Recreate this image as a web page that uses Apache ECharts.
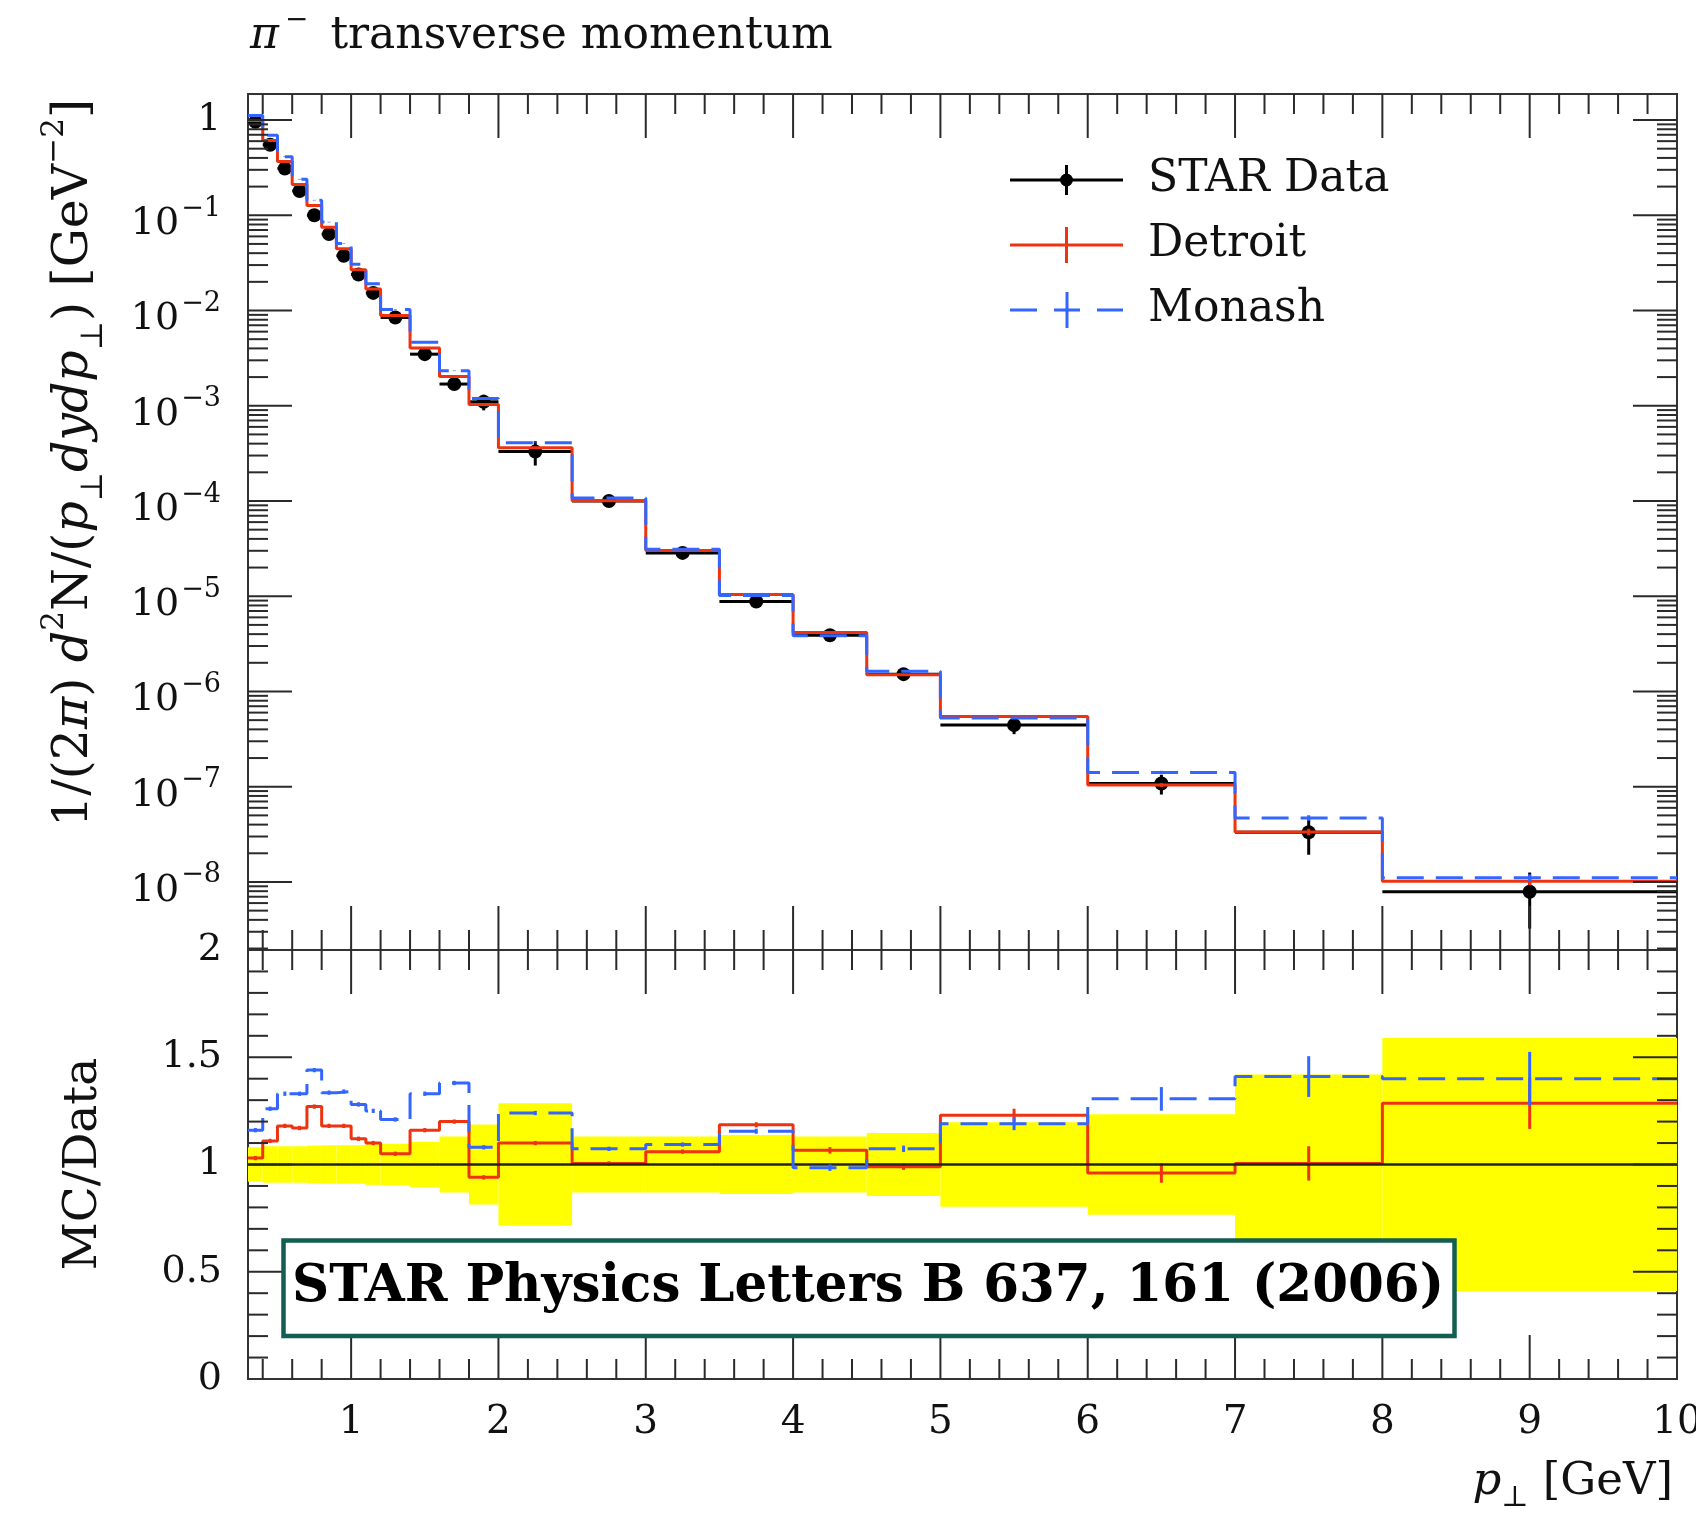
<!DOCTYPE html>
<html>
<head>
<meta charset="utf-8">
<title>pi- transverse momentum</title>
<script src="https://cdn.jsdelivr.net/npm/echarts@6/dist/echarts.min.js"></script>
<style>
  html, body { margin: 0; padding: 0; background: #ffffff; }
  #chart { width: 1696px; height: 1513px; }
</style>
</head>
<body>
<div id="chart"></div>
<script>
// ---- values ----
// pT bin edges [GeV]
const binEdges = [0.3, 0.4, 0.5, 0.6, 0.7, 0.8, 0.9, 1.0, 1.1, 1.2, 1.4, 1.6, 1.8, 2.0, 2.5, 3.0, 3.5, 4.0, 4.5, 5.0, 6.0, 7.0, 8.0, 10.0];
// STAR measurement, 1/(2pi) d2N/(pT dy dpT) [GeV^-2]
const starData = [0.96, 0.55, 0.31, 0.18, 0.10, 0.0635, 0.0376, 0.0239, 0.0153, 0.00845, 0.00348, 0.00169, 0.0011,
  3.3e-4, 1.0e-4, 2.85e-5, 8.8e-6, 3.9e-6, 1.52e-6, 4.44e-7, 1.08e-7, 3.33e-8, 7.9e-9];
// relative uncertainty of the measurement
const starRelErr = [0.08, 0.085, 0.085, 0.085, 0.088, 0.09, 0.09, 0.09, 0.095, 0.097, 0.105, 0.13, 0.187,
  0.286, 0.131, 0.131, 0.137, 0.13, 0.147, 0.197, 0.234, 0.42, 0.59];
// Pythia tunes
const detroit = [0.989, 0.611, 0.366, 0.211, 0.127, 0.0749, 0.0444, 0.0268, 0.0168, 0.00887, 0.00404, 0.00203, 0.00103,
  3.63e-4, 1.005e-4, 3.02e-5, 1.04e-5, 4.16e-6, 1.50e-6, 5.46e-7, 1.04e-7, 3.35e-8, 1.02e-8];
const monash = [1.114, 0.693, 0.412, 0.239, 0.144, 0.0848, 0.0504, 0.0306, 0.0191, 0.01022, 0.00463, 0.00233, 0.00119,
  4.09e-4, 1.073e-4, 3.12e-5, 1.016e-5, 3.84e-6, 1.63e-6, 5.28e-7, 1.41e-7, 4.70e-8, 1.106e-8];
// MC / Data
const detroitRatio = [1.03, 1.11, 1.18, 1.17, 1.27, 1.18, 1.18, 1.12, 1.10, 1.05, 1.16, 1.20, 0.94,
  1.10, 1.005, 1.06, 1.185, 1.066, 0.99, 1.23, 0.96, 1.005, 1.286];
const monashRatio = [1.16, 1.26, 1.33, 1.33, 1.44, 1.335, 1.34, 1.28, 1.25, 1.21, 1.33, 1.38, 1.08,
  1.24, 1.073, 1.093, 1.155, 0.985, 1.073, 1.19, 1.306, 1.41, 1.40];
// MC statistical uncertainty (ratio units)
const detroitRatioErr = [0.01, 0.01, 0.01, 0.01, 0.01, 0.01, 0.01, 0.01, 0.01, 0.01, 0.01, 0.01, 0.01,
  0.01, 0.01, 0.01, 0.012, 0.015, 0.015, 0.03, 0.045, 0.08, 0.12];
const monashRatioErr = [0.01, 0.01, 0.01, 0.01, 0.01, 0.01, 0.01, 0.01, 0.01, 0.01, 0.01, 0.01, 0.01,
  0.01, 0.01, 0.01, 0.012, 0.015, 0.015, 0.03, 0.055, 0.095, 0.125];
// axis labels
const xTickValues = [1, 2, 3, 4, 5, 6, 7, 8, 9, 10];
const xTickLabels = ['1', '2', '3', '4', '5', '6', '7', '8', '9', '10'];
const ratioTickLabels = { 0: '0', 0.5: '0.5', 1: '1', 1.5: '1.5', 2: '2' };

// ---- styling ----
const FONT = 'DejaVu Serif';
const INK = '#111111';
const RED = '#EE3311';
const BLUE = '#3366FF';
const YELLOW = '#FFFF00';
const TICK = '#2a2a2a';

const GL = 248, GW = 1429;
const GT1 = 94, GH1 = 856;
const GT2 = 950, GH2 = 429;
const X_MIN = 0.3, X_MAX = 10;
const Y_MIN = 1.93e-9, Y_MAX = 1.876;

// ---- derived tables ----
const nBins = starData.length;
const binCenters = starData.map((_, i) => (binEdges[i] + binEdges[i + 1]) / 2);
const stepPoints = vals => vals.map((v, i) => [binEdges[i], v]).concat([[binEdges[nBins], vals[nBins - 1]]]);

const dataItems = starData.map((v, i) => [binCenters[i], v, binEdges[i], binEdges[i + 1],
  v * (1 - starRelErr[i]), v * (1 + starRelErr[i])]);
const mcErrItems = (vals, ratio, err) => vals.map((v, i) => [binCenters[i], v,
  v * (1 - err[i] / ratio[i]), v * (1 + err[i] / ratio[i])]);
const ratioErrItems = (ratio, err) => ratio.map((r, i) => [binCenters[i], r, r - err[i], r + err[i]]);
const bandItems = starRelErr.map((h, i) => [binEdges[i], binEdges[i + 1], 1 - h, 1 + h]);

// tick marks: [x, y, orientation(0 = x tick, 1 = y tick), major]
function xTicks(yRef) {
  const out = [];
  for (let k = 2; k < 50; k++) {
    const v = +(k * 0.2).toFixed(3);
    if (v <= X_MIN || v >= X_MAX) continue;
    const major = Math.abs(v - Math.round(v)) < 1e-6 ? 1 : 0;
    out.push([v, yRef, 0, major]);
  }
  return out;
}
const mainTicks = xTicks(1e-3);
for (let n = -9; n <= 0; n++) {
  for (let k = 1; k <= 9; k++) {
    const v = k * Math.pow(10, n);
    if (v > Y_MIN && v < Y_MAX) mainTicks.push([1, v, 1, k === 1 ? 1 : 0]);
  }
}
const ratioTicks = xTicks(1);
for (let k = 1; k < 20; k++) {
  const v = +(k * 0.1).toFixed(2);
  ratioTicks.push([1, v, 1, k % 5 === 0 ? 1 : 0]);
}

function renderTicks(params, api) {
  const cs = params.coordSys;
  const len = api.value(3) ? 44 : 20;
  const st = { stroke: TICK, lineWidth: 2 };
  const p = api.coord([api.value(0), api.value(1)]);
  if (api.value(2) === 0) {
    const x = p[0];
    return { type: 'group', children: [
      { type: 'line', shape: { x1: x, y1: cs.y, x2: x, y2: cs.y + len }, style: st },
      { type: 'line', shape: { x1: x, y1: cs.y + cs.height, x2: x, y2: cs.y + cs.height - len }, style: st }
    ] };
  }
  const y = p[1];
  return { type: 'group', children: [
    { type: 'line', shape: { x1: cs.x, y1: y, x2: cs.x + len, y2: y }, style: st },
    { type: 'line', shape: { x1: cs.x + cs.width, y1: y, x2: cs.x + cs.width - len, y2: y }, style: st }
  ] };
}

function renderData(params, api) {
  const c = api.coord([api.value(0), api.value(1)]);
  const l = api.coord([api.value(2), api.value(1)]);
  const r = api.coord([api.value(3), api.value(1)]);
  const lo = api.coord([api.value(0), api.value(4)]);
  const hi = api.coord([api.value(0), api.value(5)]);
  const st = { stroke: '#000', lineWidth: 3 };
  return { type: 'group', children: [
    { type: 'line', shape: { x1: l[0], y1: l[1], x2: r[0], y2: r[1] }, style: st },
    { type: 'line', shape: { x1: lo[0], y1: lo[1], x2: hi[0], y2: hi[1] }, style: st },
    { type: 'circle', shape: { cx: c[0], cy: c[1], r: 7 }, style: { fill: '#000' } }
  ] };
}

function errRenderer(color) {
  return function (params, api) {
    const lo = api.coord([api.value(0), api.value(2)]);
    const hi = api.coord([api.value(0), api.value(3)]);
    return { type: 'line', shape: { x1: lo[0], y1: lo[1], x2: hi[0], y2: hi[1] },
      style: { stroke: color, lineWidth: 3 } };
  };
}

function renderBand(params, api) {
  const a = api.coord([api.value(0), api.value(3)]);
  const b = api.coord([api.value(1), api.value(2)]);
  return { type: 'rect', shape: { x: a[0], y: a[1], width: b[0] - a[0], height: b[1] - a[1] },
    style: { fill: YELLOW } };
}

function fmtLog(v) {
  const lg = Math.log10(v);
  const e = Math.round(lg);
  if (Math.abs(lg - e) > 1e-6) return '';
  return e === 0 ? '{one|1}' : '{b|10}{s|\u2212' + (-e) + '}';
}

// legend glyphs (113 x 36 boxes)
const ICON_DATA = 'path://M0,16.5H113V19.5H0Z M55,3H58V33H55Z M50,18A6.5,6.5 0 1,1 63,18A6.5,6.5 0 1,1 50,18Z';
const ICON_LINE = 'path://M0,16.5H113V19.5H0Z M55,0H58V36H55Z';
const ICON_DASH = 'path://M0,16.5H27V19.5H0Z M44,16.5H70V19.5H44Z M87,16.5H113V19.5H87Z M55.5,0H58.5V36H55.5Z';

const gridFrame = { show: true, borderColor: '#333', borderWidth: 2, backgroundColor: 'transparent',
  containLabel: false, outerBoundsMode: 'none' };

const option = {
  animation: false,
  backgroundColor: '#ffffff',
  grid: [
    Object.assign({ left: GL, top: GT1, width: GW, height: GH1 }, gridFrame),
    Object.assign({ left: GL, top: GT2, width: GW, height: GH2 }, gridFrame)
  ],
  xAxis: [
    { type: 'value', gridIndex: 0, min: X_MIN, max: X_MAX,
      axisLine: { show: false }, axisTick: { show: false }, axisLabel: { show: false }, splitLine: { show: false } },
    { type: 'value', gridIndex: 1, min: X_MIN, max: X_MAX,
      axisLine: { show: false }, axisTick: { show: false }, splitLine: { show: false },
      axisLabel: { show: true, margin: 24, fontFamily: FONT, fontSize: 39, color: INK,
        customValues: xTickValues,
        formatter: v => { const i = xTickValues.indexOf(Math.round(v)); return (i >= 0 && Math.abs(v - Math.round(v)) < 1e-6) ? xTickLabels[i] : ''; } } }
  ],
  yAxis: [
    { type: 'log', logBase: 10, gridIndex: 0, min: Y_MIN, max: Y_MAX,
      axisLine: { show: false }, axisTick: { show: false }, splitLine: { show: false }, minorTick: { show: false },
      axisLabel: { show: true, margin: 27, color: INK, fontFamily: FONT, fontSize: 37, formatter: fmtLog,
        rich: {
          one: { fontFamily: FONT, fontSize: 37, color: INK },
          b: { fontFamily: FONT, fontSize: 38, lineHeight: 56, verticalAlign: 'bottom', color: INK },
          s: { fontFamily: FONT, fontSize: 27, verticalAlign: 'top', padding: [8, 0, 0, 2], color: INK }
        } } },
    { type: 'value', gridIndex: 1, min: 0, max: 2, interval: 0.5,
      axisLine: { show: false }, axisTick: { show: false }, splitLine: { show: false },
      axisLabel: { show: true, margin: 26, fontFamily: FONT, fontSize: 38, color: INK,
        formatter: v => ratioTickLabels[v] !== undefined ? ratioTickLabels[v] : '' } }
  ],
  legend: {
    left: 1005, top: 153, orient: 'vertical', selectedMode: false,
    itemWidth: 113, itemHeight: 36, itemGap: 21, symbolKeepAspect: true,
    itemStyle: { borderWidth: 0 },
    textStyle: { fontFamily: FONT, fontSize: 44, color: INK, padding: [0, 0, 0, 20] },
    data: [
      { name: 'STAR Data', icon: ICON_DATA, itemStyle: { color: '#000000', borderWidth: 0 } },
      { name: 'Detroit', icon: ICON_LINE, itemStyle: { color: RED, borderWidth: 0 } },
      { name: 'Monash', icon: ICON_DASH, itemStyle: { color: BLUE, borderWidth: 0 } }
    ]
  },
  graphic: [
    { type: 'text', x: 250, y: 37, z: 100,
      style: { text: '{i|\u03c0}{sp|\u2212}{n|transverse momentum}', align: 'left', verticalAlign: 'middle',
        rich: {
          i: { fontFamily: FONT, fontStyle: 'italic', fontSize: 44, fill: INK, lineHeight: 60, verticalAlign: 'middle' },
          sp: { fontFamily: FONT, fontSize: 28, fill: INK, verticalAlign: 'top', padding: [0, 22, 0, 6] },
          n: { fontFamily: FONT, fontSize: 44, fill: INK, lineHeight: 60, verticalAlign: 'middle' }
        } } },
    { type: 'text', x: 74, y: 463, rotation: Math.PI / 2, z: 100,
      style: { text: '{n|1/(2}{i|\u03c0}{n|) }{i|d}{sp|2}{n|N/(}{i|p}{sb|\u22a5}{i|dydp}{sb|\u22a5}{n|) [GeV}{sp|\u22122}{n|]}',
        align: 'center', verticalAlign: 'middle',
        rich: {
          n: { fontFamily: FONT, fontSize: 49, fill: INK, lineHeight: 70, verticalAlign: 'middle' },
          i: { fontFamily: FONT, fontStyle: 'italic', fontSize: 49, fill: INK, lineHeight: 70, verticalAlign: 'middle' },
          sp: { fontFamily: FONT, fontSize: 31, fill: INK, verticalAlign: 'top' },
          sb: { fontFamily: FONT, fontSize: 31, fill: INK, verticalAlign: 'bottom' }
        } } },
    { type: 'text', x: 84, y: 1164, rotation: Math.PI / 2, z: 100,
      style: { text: 'MC/Data', fontFamily: FONT, fontSize: 47, fill: INK, align: 'center', verticalAlign: 'middle' } },
    { type: 'text', x: 1673, y: 1482, z: 100,
      style: { text: '{i|p}{sb|\u22a5}{n| [GeV]}', align: 'right', verticalAlign: 'middle',
        rich: {
          i: { fontFamily: FONT, fontStyle: 'italic', fontSize: 45, fill: INK, lineHeight: 62, verticalAlign: 'middle' },
          sb: { fontFamily: FONT, fontSize: 29, fill: INK, verticalAlign: 'bottom' },
          n: { fontFamily: FONT, fontSize: 45, fill: INK, lineHeight: 62, verticalAlign: 'middle' }
        } } },
    { type: 'group', z: 100, children: [
      { type: 'rect', z: 100, shape: { x: 283.5, y: 1240.5, width: 1171, height: 95.5 },
        style: { fill: '#ffffff', stroke: '#135e52', lineWidth: 4.5 } },
      { type: 'text', z: 101, x: 868, y: 1288,
        style: { text: 'STAR Physics Letters B 637, 161 (2006)', fontFamily: FONT, fontWeight: 'bold',
          fontSize: 51.5, fill: '#000', align: 'center', verticalAlign: 'middle' } }
    ] }
  ],
  series: [
    // --- spectrum panel ---
    { type: 'custom', name: 'STAR Data', xAxisIndex: 0, yAxisIndex: 0, renderItem: renderData,
      data: dataItems, encode: { x: 0, y: 1 }, z: 3, silent: true },
    { type: 'line', name: 'Detroit', xAxisIndex: 0, yAxisIndex: 0, step: 'end', data: stepPoints(detroit),
      symbol: 'none', lineStyle: { color: RED, width: 3 }, itemStyle: { color: RED }, z: 4, silent: true },
    { type: 'custom', name: 'Detroit', xAxisIndex: 0, yAxisIndex: 0, renderItem: errRenderer(RED),
      data: mcErrItems(detroit, detroitRatio, detroitRatioErr), encode: { x: 0, y: 1 }, z: 4, silent: true },
    { type: 'line', name: 'Monash', xAxisIndex: 0, yAxisIndex: 0, step: 'end', data: stepPoints(monash),
      symbol: 'none', lineStyle: { color: BLUE, width: 3, type: [27, 12] }, itemStyle: { color: BLUE }, z: 5, silent: true },
    { type: 'custom', name: 'Monash', xAxisIndex: 0, yAxisIndex: 0, renderItem: errRenderer(BLUE),
      data: mcErrItems(monash, monashRatio, monashRatioErr), encode: { x: 0, y: 1 }, z: 5, silent: true },
    { type: 'custom', name: 'ticks-main', xAxisIndex: 0, yAxisIndex: 0, renderItem: renderTicks,
      data: mainTicks, encode: { x: 0, y: 1 }, z: 8, silent: true },

    // --- ratio panel ---
    { type: 'custom', name: 'data band', xAxisIndex: 1, yAxisIndex: 1, renderItem: renderBand,
      data: bandItems, encode: { x: [0, 1], y: [2, 3] }, z: 2, silent: true,
      markLine: { silent: true, symbol: 'none', label: { show: false },
        lineStyle: { color: '#222', width: 2.5, type: 'solid' }, data: [{ yAxis: 1 }] } },
    { type: 'line', name: 'Detroit', xAxisIndex: 1, yAxisIndex: 1, step: 'end', data: stepPoints(detroitRatio),
      symbol: 'none', lineStyle: { color: RED, width: 3 }, itemStyle: { color: RED }, z: 4, silent: true },
    { type: 'custom', name: 'Detroit', xAxisIndex: 1, yAxisIndex: 1, renderItem: errRenderer(RED),
      data: ratioErrItems(detroitRatio, detroitRatioErr), encode: { x: 0, y: 1 }, z: 4, silent: true },
    { type: 'line', name: 'Monash', xAxisIndex: 1, yAxisIndex: 1, step: 'end', data: stepPoints(monashRatio),
      symbol: 'none', lineStyle: { color: BLUE, width: 3, type: [27, 12] }, itemStyle: { color: BLUE }, z: 5, silent: true },
    { type: 'custom', name: 'Monash', xAxisIndex: 1, yAxisIndex: 1, renderItem: errRenderer(BLUE),
      data: ratioErrItems(monashRatio, monashRatioErr), encode: { x: 0, y: 1 }, z: 5, silent: true },
    { type: 'custom', name: 'ticks-ratio', xAxisIndex: 1, yAxisIndex: 1, renderItem: renderTicks,
      data: ratioTicks, encode: { x: 0, y: 1 }, z: 8, silent: true }
  ]
};

const chart = echarts.init(document.getElementById('chart'), null, { renderer: 'canvas', width: 1696, height: 1513 });
chart.setOption(option);
</script>
</body>
</html>
